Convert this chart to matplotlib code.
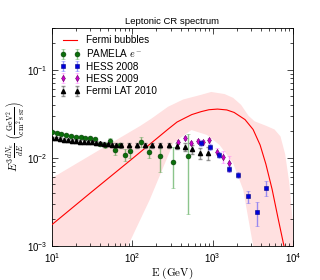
import matplotlib
matplotlib.use("Agg")
import matplotlib.pyplot as plt
import numpy as np

plt.rcParams["mathtext.fontset"] = "cm"
plt.rcParams["font.family"] = ["Liberation Sans", "DejaVu Sans"]

# model curve (Fermi bubbles)
model_e = [10, 30, 100, 200, 279, 360, 450, 550, 720, 900, 1150, 1500, 1850, 2530, 3190,
           3900, 4600, 5500, 6500, 7820]
model_y = [1.75e-3, 4.0e-3, 9.8e-3, 0.0165, 0.0212, 0.0255, 0.0283, 0.031, 0.0335, 0.0352,
           0.0358, 0.0350, 0.0328, 0.0272, 0.0210, 0.0140, 0.0085, 0.0044, 0.0021, 0.00095]

# uncertainty band edges
band_upper_e = [10, 45, 125, 174, 278, 430, 720, 960, 1410, 1800, 2260, 2800, 3330, 4700,
                5900, 7000, 8000, 9000, 10000]
band_upper_y = [5.9e-3, 0.0133, 0.023, 0.028, 0.038, 0.046, 0.052, 0.056, 0.053, 0.048,
                0.040, 0.030, 0.026, 0.023, 0.021, 0.0175, 0.011, 0.0052, 0.0018]
band_lower_e = [10, 50, 88, 165, 324, 545, 850, 1220, 1800, 2400, 3200, 4000, 10000]
band_lower_y = [1.5e-5, 3e-4, 1e-3, 3.36e-3, 0.0147, 0.0207, 0.0182, 0.0140, 0.0087,
                0.00435, 0.001, 2e-4, 1e-6]

pamela_e = [10.0, 11.4, 13.1, 14.9, 17.2, 19.9, 22.8, 26.0, 30.0, 34.6, 40.0, 46.0, 53.0,
            60.0, 69.6, 80.5, 93.0, 129, 163, 220, 318, 498]
pamela_y = [0.0197, 0.0193, 0.0188, 0.0180, 0.0177, 0.0173, 0.0172, 0.0168, 0.0166, 0.0163,
            0.0145, 0.0139, 0.0156, 0.0124, 0.0139, 0.0109, 0.0119, 0.0153, 0.0118, 0.0104,
            0.0090, 0.0106]
pamela_err = [0.0006, 0.0006, 0.0006, 0.0006, 0.0006, 0.0006, 0.0006, 0.0006, 0.0006, 0.0006,
              0.0008, 0.0009, 0.0014, 0.0016, 0.0009, 0.0018, 0.0019, 0.0020, 0.0018, 0.0035,
              0.0044, 0.0083]

hess08_e = [720, 935, 1190, 1610, 2060, 2770, 3550, 4640]
hess08_y = [0.0149, 0.0134, 0.0108, 0.00745, 0.00643, 0.00365, 0.00241, 0.00461]
hess08_err = [0.0011, 0.0010, 0.0008, 0.0006, 0.0005, 0.00057, 0.00074, 0.0009]

hess09_e = [373, 452, 535, 655, 765, 910, 1120, 1350, 1620]
hess09_y = [0.0150, 0.0170, 0.0149, 0.0157, 0.0150, 0.0159, 0.0118, 0.0103, 0.0087]
hess09_err = [0.0008, 0.0009, 0.0008, 0.0008, 0.0009, 0.0010, 0.0010, 0.0016, 0.0018]

fermi_e = [10.0, 11.2, 12.6, 14.1, 15.8, 17.8, 20.0, 22.4, 25.1, 28.2, 31.6, 35.5, 39.8, 44.7,
           50.1, 56.2, 63.1, 72, 91, 114, 144, 176, 221, 285, 358, 452, 553, 690, 870]
fermi_y = [0.0168, 0.0167, 0.0165, 0.0161, 0.0159, 0.0156, 0.0154, 0.0153, 0.0152, 0.0151,
           0.0150, 0.0148, 0.0146, 0.0144, 0.0142, 0.0141, 0.0140, 0.0139, 0.0139, 0.0139,
           0.0139, 0.0139, 0.0139, 0.0139, 0.0136, 0.0133, 0.0126, 0.0113, 0.0113]
fermi_err = [0.0006] * 17 + [0.0009] * 7 + [0.0011, 0.0013, 0.0015, 0.0017, 0.0019]

fig = plt.figure(figsize=(3.2, 2.8), dpi=100)
ax = fig.add_axes([0.1625, 0.1214, 0.753, 0.7796])

poly_e = band_upper_e + band_lower_e[::-1]
poly_y = band_upper_y + band_lower_y[::-1]
ax.fill(poly_e, poly_y, color="#ffe0e0", lw=0, zorder=1)
ax.plot(model_e, model_y, color="red", lw=0.8, label="Fermi bubbles", zorder=3)

ax.errorbar(pamela_e, pamela_y, yerr=pamela_err, fmt="o", color="#0a6e0a", mec="#063d06",
            mew=0.4, ms=3.5, ecolor=(0.1, 0.55, 0.1, 0.5), elinewidth=1.0, capsize=1.5,
            label=r"PAMELA $e^-$", zorder=4)
ax.errorbar(hess08_e, hess08_y, yerr=hess08_err, fmt="s", color="#0000dd", mec="#000080",
            mew=0.4, ms=3.5, ecolor=(0.2, 0.2, 1.0, 0.5), elinewidth=1.0, capsize=1.5,
            label="HESS 2008", zorder=6)
ax.errorbar(hess09_e, hess09_y, yerr=hess09_err, fmt="d", color="#cc00cc", mec="#600060",
            mew=0.4, ms=3.2, ecolor=(1.0, 0.3, 1.0, 0.5), elinewidth=1.0, capsize=1.5,
            label="HESS 2009", zorder=5)
ax.errorbar(fermi_e, fermi_y, yerr=fermi_err, fmt="^", color="black", ms=3.0,
            ecolor=(0.35, 0.35, 0.35, 0.6), elinewidth=1.0, capsize=1.5,
            label="Fermi LAT 2010", zorder=5)

ax.set_xscale("log")
ax.set_yscale("log")
ax.set_xlim(10, 1e4)
ax.set_ylim(1e-3, 0.3)
ax.tick_params(which="both", direction="in", top=True, right=True, labelsize=7)
ax.tick_params(which="major", length=4, width=0.5)
ax.tick_params(which="minor", length=2, width=0.5)
for s in ax.spines.values():
    s.set_linewidth(0.6)

ax.set_title("Leptonic CR spectrum", fontsize=6.8, pad=3)
ax.set_xlabel(r"$\mathrm{E\ (GeV)}$", fontsize=8, labelpad=1)
ax.set_ylabel(r"$E^3\frac{dN_e}{dE}\ \left(\frac{\mathrm{GeV}^2}{\mathrm{cm}^2\,\mathrm{s\ sr}}\right)$",
              fontsize=8, labelpad=0)

ax.legend(loc="upper left", frameon=False, fontsize=7.2, numpoints=2, handlelength=2.0,
          labelspacing=0.22, borderaxespad=0.35, handletextpad=0.6)

fig.savefig("out.png", dpi=100)
